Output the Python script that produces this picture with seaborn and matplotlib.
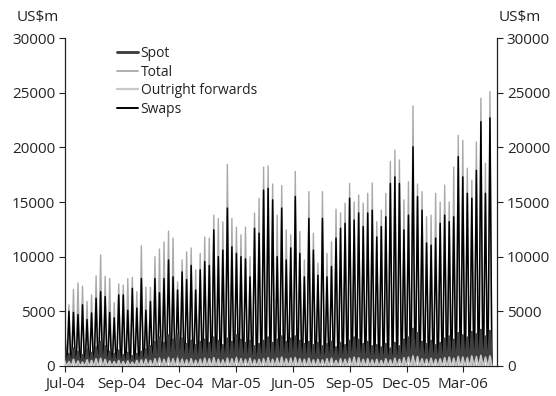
import numpy as np
import pandas as pd
import matplotlib
matplotlib.use("Agg")
import matplotlib.pyplot as plt
import matplotlib.dates as mdates
from matplotlib.lines import Line2D
import seaborn as sns

# Weekly turnover readings (US$m), one per week; each week peaks mid-week
# and falls to nothing over the weekend.
first_monday = "2004-06-28"

swaps = [
    4400, 5000, 4900, 4700, 5600, 4250, 4850, 6200, 6800, 6350, 4900, 4400, 6500,
    6500, 5100, 7100, 5300, 8000, 5100, 5900, 8000, 6700, 8000, 9700, 8150, 6950,
    8600, 7900, 9200, 6950, 8800, 9550, 9200, 12450, 10000, 10600, 14450, 10900, 10300,
    10000, 9800, 8150, 12600, 12150, 16100, 16250, 15200, 10000, 14450, 9700, 10800, 15500, 10300,
    8150, 13500, 10600, 8300, 13500, 8150, 9100, 11700, 12600, 13050, 15350, 13350, 14000, 12750,
    14000, 14250, 11800, 12750, 13650, 16700, 17300, 16700, 12450, 13800, 20050, 15500, 14250, 11250,
    11050, 11700, 13050, 13800, 13200, 13650, 19150, 17300, 15800, 15350, 17900, 22350, 15800, 22700,
]

total = [
    5750, 5600, 7000, 7600, 7300, 5900, 6500, 8250, 10150, 8200, 8000, 5800, 7500,
    7400, 8000, 8100, 6800, 11000, 7200, 7200, 10000, 10700, 11350, 12350, 11700, 7700,
    9700, 10450, 10800, 8800, 10300, 11800, 11700, 13800, 13500, 13200, 18450, 13500, 12700,
    12000, 12700, 10000, 14000, 15350, 18200, 18300, 16650, 13800, 16500, 12450, 12000, 17800, 12300,
    9700, 15950, 12150, 9400, 15950, 10300, 11350, 14350, 14000, 14900, 16700, 15000, 15650, 14900,
    15800, 16750, 13200, 14250, 15800, 18700, 19750, 18850, 15200, 16850, 23800, 16650, 15950, 13650,
    13800, 15800, 15000, 16550, 15000, 18200, 21100, 20650, 18100, 17000, 20500, 24500, 18550, 25100,
]

spot = [
    1400, 1100, 1600, 1300, 1000, 1500, 1200, 1700, 2200, 1800, 1300, 1100, 1400,
    1000, 1200, 900, 1100, 1300, 1500, 1800, 2200, 2600, 2100, 2800, 2400,
    2900, 2500, 2000, 2300, 1900, 2200, 2400, 2100, 2600, 2300, 1900, 2500, 2200,
    2800, 2400, 2100, 2300, 1800, 2000, 2300, 2600, 2100, 2400, 2700, 2200, 2500,
    2700, 2300, 2000, 2200, 1900, 2100, 1800, 2000, 2200, 1700, 2100, 1900,
    2300, 2600, 2400, 2000, 2200, 1800, 1900, 1700, 2000, 1600, 2100, 1800, 2400, 2600,
    3400, 3000, 2200, 2000, 2300, 1900, 2100, 2500, 2700, 2400, 3000, 2800,
    2600, 3100, 2900, 3300, 2700, 3200,
]

outright = [
    500, 400, 600, 450, 350, 550, 500, 650, 700, 600, 450, 400, 500,
    400, 450, 350, 500, 550, 600, 500, 650, 700, 600, 750, 650,
    700, 600, 550, 650, 500, 600, 700, 650, 750, 600, 550, 700, 650,
    750, 650, 600, 700, 550, 600, 650, 750, 600, 700, 800, 650, 700,
    750, 650, 600, 700, 550, 600, 550, 650, 700, 500, 650, 600,
    700, 800, 750, 600, 650, 550, 600, 500, 650, 550, 700, 600, 750, 800,
    900, 850, 650, 600, 700, 600, 650, 750, 800, 700, 850, 800,
    750, 900, 850, 950, 800, 900,
]

series_names = ["Spot", "Total", "Outright forwards", "Swaps"]
series_colors = {"Spot": "#404040", "Total": "#a9a9a9",
                 "Outright forwards": "#c8c8c8", "Swaps": "#000000"}
series_widths = {"Spot": 1.8, "Total": 1.0, "Outright forwards": 1.3, "Swaps": 1.1}

# each week: zero on Sunday, the reading on Wednesday, zero on Saturday
n_weeks = len(swaps)
mondays = pd.date_range(first_monday, periods=n_weeks, freq="7D")
offsets = [-1, 2, 5]          # Sunday, Wednesday, Saturday
dates = [m + pd.Timedelta(days=o) for m in mondays for o in offsets]


def weekly_profile(values):
    out = []
    for v in values:
        out += [0.0, float(v), 0.0]
    return out


df = pd.DataFrame({
    "date": dates,
    "Spot": weekly_profile(spot),
    "Total": weekly_profile(total),
    "Outright forwards": weekly_profile(outright),
    "Swaps": weekly_profile(swaps),
})

sns.set_theme(style="white")
plt.rcParams["font.family"] = ["Open Sans", "DejaVu Sans"]
plt.rcParams["text.color"] = "#222222"

fig = plt.figure(figsize=(5.56, 3.96), dpi=100)
ax = fig.add_axes([0.117, 0.0758, 0.777, 0.828])

# back-to-front drawing order
for name, z in [("Total", 1), ("Swaps", 2), ("Spot", 3), ("Outright forwards", 4)]:
    sns.lineplot(data=df, x="date", y=name, ax=ax, color=series_colors[name],
                 linewidth=series_widths[name], zorder=z, legend=False)

x0 = pd.Timestamp("2004-07-01")
ax.set_xlim(x0, x0 + pd.Timedelta(days=668))
ax.set_ylim(0, 30000)
ax.set_yticks(np.arange(0, 30001, 5000))
ax.set_xticks(pd.date_range(x0, periods=8, freq="88D"))
ax.xaxis.set_major_formatter(mdates.DateFormatter("%b-%y"))
ax.set_xlabel("")
ax.set_ylabel("")

for side in ["left", "right", "bottom"]:
    ax.spines[side].set_visible(True)
    ax.spines[side].set_color("#222222")
    ax.spines[side].set_linewidth(0.9)
ax.spines["top"].set_visible(False)

ax.tick_params(axis="y", left=True, right=True, labelleft=True, labelright=True,
               direction="out", length=4, width=0.8, color="#222222",
               labelsize=11, pad=3)
ax.tick_params(axis="x", bottom=True, direction="out", length=4, width=0.8,
               color="#222222", labelsize=11, pad=4)

handles = [Line2D([], [], color=series_colors[s], linewidth=series_widths[s] + 0.3)
           for s in series_names]
ax.legend(handles, series_names, loc="upper left", bbox_to_anchor=(0.12, 0.975),
          frameon=False, fontsize=10, handlelength=1.5, handletextpad=0.2,
          labelspacing=0.25, borderaxespad=0, borderpad=0)

fig.text(38 / 556, 1 - 18 / 396, "US$m", ha="center", va="center", fontsize=11)
fig.text(520 / 556, 1 - 18 / 396, "US$m", ha="center", va="center", fontsize=11)

fig.savefig("out.png", dpi=100)
